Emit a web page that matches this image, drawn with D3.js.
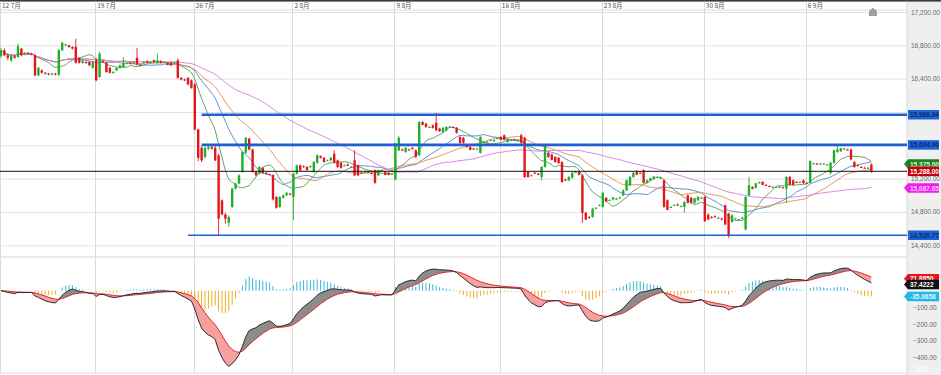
<!DOCTYPE html>
<html>
<head>
<meta charset="utf-8">
<script src="https://cdn.jsdelivr.net/npm/d3@7"></script>
<style>
html, body { margin: 0; padding: 0; background: #fff; }
svg { display: block; font-family: "Liberation Sans", Arial, sans-serif; }
</style>
</head>
<body>
<svg id="chart" width="941" height="375"></svg>
<script>
// 4h candles, 12 Jul - 6 Sep  [open, high, low, close]
const ohlc = [
  // 12 7月
  [16670,16770,16650,16740],[16740,16760,16670,16680],[16680,16700,16620,16650],[16620,16690,16600,16670],
  [16670,16690,16640,16650],[16660,16820,16650,16790],[16760,16770,16670,16680],[16700,16720,16680,16710],
  [16710,16720,16690,16700],[16700,16710,16680,16690],[16680,16700,16430,16440],[16440,16540,16430,16530],
  [16500,16510,16460,16470],[16470,16480,16450,16460],[16460,16470,16440,16450],[16450,16470,16440,16460],
  [16460,16470,16440,16450],[16450,16760,16430,16740],[16740,16840,16730,16830],[16800,16820,16790,16810],
  [16800,16810,16770,16780],[16780,16790,16750,16760],[16780,16880,16580,16590],[16650,16660,16580,16590],
  [16590,16630,16580,16620],[16600,16610,16580,16590],[16600,16610,16550,16560],[16530,16610,16520,16600],
  // 19 7月
  [16620,16650,16370,16380],[16420,16720,16410,16700],[16610,16630,16590,16600],[16590,16600,16470,16480],
  [16530,16540,16460,16470],[16480,16490,16460,16480],[16500,16530,16490,16530],[16530,16570,16520,16560],
  [16540,16660,16530,16590],[16590,16600,16570,16590],[16590,16600,16580,16580],[16590,16610,16580,16600],
  [16650,16770,16560,16570],[16570,16580,16550,16560],[16590,16610,16580,16600],[16610,16620,16590,16590],
  [16600,16610,16590,16600],[16620,16630,16590,16600],[16590,16700,16580,16620],[16610,16620,16580,16590],
  [16600,16610,16590,16600],[16590,16600,16560,16570],[16590,16600,16550,16560],[16590,16600,16580,16590],
  [16620,16640,16400,16410],[16410,16420,16380,16390],[16390,16400,16370,16380],[16410,16420,16320,16330],
  [16380,16390,16280,16290],
  // 26 7月
  [16330,16350,15780,15790],[15790,15800,15410,15450],[15570,15590,15400,15420],[15460,15580,15440,15570],
  [15560,15590,15540,15580],[15580,15600,15550,15560],[15570,15600,15410,15420],[15480,15500,14510,14720],
  [14940,14950,14760,14770],[14770,14790,14660,14720],[14670,14760,14620,14740],[14860,15090,14850,15080],
  [15080,15150,15070,15140],[15140,15250,15130,15240],[15280,15530,15270,15520],[15510,15700,15500,15690],
  [15680,15690,15540,15550],[15550,15560,15270,15280],[15280,15290,15230,15240],[15260,15350,15250,15340],
  [15330,15340,15260,15270],[15270,15280,15250,15255],[15255,15260,15240,15245],[15245,15250,14940,14950],
  [14980,14990,14840,14850],[14860,14990,14850,14980],[14970,15010,14960,15000],[15000,15040,14990,15030],
  [15020,15030,15000,15010],
  // 2 8月
  [14980,15270,14700,15260],[15260,15370,15250,15360],[15360,15370,15290,15300],[15350,15360,15330,15340],
  [15340,15350,15300,15300],[15340,15360,15330,15350],[15280,15410,15270,15400],[15390,15490,15380,15480],
  [15470,15480,15440,15450],[15450,15460,15390,15400],[15420,15430,15410,15420],[15420,15460,15410,15450],
  [15500,15540,15380,15390],[15420,15430,15330,15340],[15390,15400,15320,15330],[15360,15370,15350,15360],
  [15370,15380,15350,15355],[15340,15350,15330,15340],[15420,15540,15230,15240],[15360,15370,15230,15240],
  [15270,15280,15260,15265],[15280,15290,15270,15280],[15280,15290,15270,15275],[15270,15280,15255,15265],
  [15300,15310,15140,15150],[15240,15310,15230,15300],[15300,15310,15290,15300],[15280,15290,15240,15245],
  [15270,15280,15240,15245],[15255,15265,15250,15260],
  // 9 8月
  [15190,15630,15180,15620],[15540,15710,15530,15690],[15550,15560,15530,15545],[15520,15580,15510,15570],
  [15550,15560,15540,15545],[15570,15580,15550,15555],[15540,15550,15450,15460],[15480,15890,15470,15880],
  [15880,15890,15840,15845],[15860,15870,15810,15820],[15820,15830,15810,15820],[15840,15850,15800,15810],
  [15870,15990,15770,15780],[15800,15810,15760,15770],[15760,15820,15750,15810],[15780,15830,15770,15820],
  [15820,15830,15810,15825],[15820,15830,15810,15815],[15810,15820,15740,15750],[15700,15710,15620,15630],
  [15690,15700,15620,15630],[15600,15610,15570,15580],[15580,15590,15540,15545],[15560,15570,15550,15555],
  [15560,15570,15550,15560],[15510,15710,15500,15700],[15630,15650,15620,15640],[15640,15650,15630,15645],
  [15660,15670,15650,15665],[15650,15670,15640,15665],[15680,15700,15670,15690],
  // 16 8月
  [15700,15710,15660,15665],[15720,15730,15660,15665],[15640,15680,15630,15675],[15660,15670,15650,15665],
  [15670,15680,15660,15665],[15660,15670,15650,15660],[15720,15740,15620,15630],[15690,15700,15210,15220],
  [15280,15290,15210,15220],[15240,15250,15230,15240],[15270,15280,15260,15265],[15260,15270,15240,15245],
  [15220,15350,15180,15340],[15340,15620,15330,15610],[15510,15520,15450,15460],[15490,15500,15420,15425],
  [15460,15470,15390,15400],[15450,15460,15380,15385],[15400,15410,15150,15160],[15190,15200,15170,15180],
  [15180,15230,15170,15220],[15210,15280,15200,15270],[15280,15290,15270,15280],[15280,15290,15240,15245],
  [15240,15250,14670,14790],[14790,14800,14700,14710],[14740,14750,14720,14730],[14740,14850,14730,14840],
  [14850,14860,14840,14850],[14880,14890,14870,14885],
  // 23 8月
  [14860,15040,14850,15030],[14970,14980,14920,14925],[14940,14950,14930,14945],[14950,14980,14940,14975],
  [14960,14970,14950,14960],[14970,14980,14960,14975],[15000,15070,14990,15060],[15060,15190,15050,15180],
  [15120,15230,15110,15220],[15220,15280,15210,15270],[15280,15300,15240,15245],[15270,15280,15260,15265],
  [15300,15310,15140,15150],[15150,15190,15140,15180],[15180,15210,15170,15205],[15200,15230,15190,15225],
  [15220,15230,15210,15220],[15210,15220,15200,15210],[15180,15190,14850,14860],[14940,14950,14820,14825],
  [14860,14870,14850,14860],[14880,14890,14870,14885],[14890,14900,14870,14880],[14870,14880,14860,14870],
  [14860,14930,14790,14920],[15000,15010,14900,14910],[14970,14980,14900,14910],[14910,14970,14900,14965],
  [14940,14990,14930,14980],[14970,14980,14960,14970],
  // 30 8月
  [14980,14990,14680,14690],[14770,14780,14700,14710],[14740,14750,14720,14730],[14750,14760,14730,14745],
  [14730,14740,14720,14730],[14720,14730,14700,14715],[14880,14890,14640,14650],[14780,14790,14490,14510],
  [14680,14770,14670,14760],[14720,14730,14710,14725],[14710,14720,14700,14715],[14720,14740,14710,14735],
  [14590,14990,14580,14980],[15000,15220,14990,15120],[15100,15110,15070,15080],[15090,15150,15080,15145],
  [15145,15165,15140,15160],[15160,15170,15120,15125],[15125,15135,15115,15120],[15110,15120,15100,15105],
  [15100,15110,15090,15100],[15100,15110,15090,15105],[15100,15110,15090,15100],[15095,15105,15085,15090],
  [15080,15230,14910,15220],[15220,15230,15120,15125],[15180,15190,15120,15125],[15160,15170,15150,15155],
  [15160,15170,15150,15160],[15180,15190,15140,15145],
  // 6 9月
  [15150,15160,15140,15145],[15150,15420,15140,15410],[15380,15390,15370,15385],[15380,15390,15370,15375],
  [15380,15390,15370,15380],[15380,15390,15370,15380],[15370,15380,15360,15370],[15270,15400,15250,15390],
  [15390,15550,15380,15540],[15520,15590,15510,15550],[15530,15570,15520,15565],[15560,15570,15550,15560],
  [15550,15560,15540,15545],[15550,15560,15420,15430],[15400,15410,15330,15340],[15360,15370,15350,15355],
  [15340,15350,15330,15335],[15330,15340,15320,15325],[15330,15340,15320,15330],[15370,15380,15270,15288]
];

const weekLabels = ["12 7月", "19 7月", "26 7月", "2 8月", "9 8月", "16 8月", "23 8月", "30 8月", "6 9月"];
const weekStart = [0, 28, 57, 86, 116, 147, 177, 207, 237];

const priceTicks = [17200, 16800, 16400, 16000, 15600, 15200, 14800, 14400];
const macdTicks = [100, 0, -100, -200, -300, -400];

// support / resistance lines: value, first candle
const levelValues = [15966.94, 15604.90, 14520.77];
const levelStart = [59, 59, 55];
const levelWidths = [2.6, 2.6, 1.6];

const lastPrice = 15288;

const maPeriods = [10, 20, 30, 60];
const maColors = ["#4f9a4f", "#4f86c8", "#e58a4e", "#d77ada"];

// right-axis value tags
const priceTags = [
  { v: 15966.94, text: "15,966.94", bg: "#1d63d8", fg: "#0b2a66", arrow: false },
  { v: 15604.90, text: "15,604.90", bg: "#1d63d8", fg: "#0b2a66", arrow: false },
  { v: 15375.00, text: "15,375.00", bg: "#1f7f22", fg: "#d8f5d8", arrow: true },
  { v: 15288.00, text: "15,288.00", bg: "#c4000b", fg: "#ffffff", arrow: false },
  { v: 15087.65, text: "15,087.65", bg: "#f01cf0", fg: "#ffd0ff", arrow: true },
  { v: 14520.77, text: "14,520.77", bg: "#1d63d8", fg: "#0b2a66", arrow: false }
];
const macdTags = [
  { v: 71.8850, text: "71.8850", bg: "#e3141c", fg: "#ffffff" },
  { v: 37.4222, text: "37.4222", bg: "#111111", fg: "#ffffff" },
  { v: -35.0658, text: "-35.0658", bg: "#1fb6ea", fg: "#e6f8ff" }
];

const W = 941, H = 375, plotR = 907;
const svg = d3.select("#chart");

const x = d3.scaleLinear().domain([0, ohlc.length - 1]).range([1, 1 + 3.4 * (ohlc.length - 1)]);
const y = d3.scaleLinear().domain([14400, 17200]).range([245.3, 12]);
const ym = d3.scaleLinear().domain([-400, 100]).range([357.5, 274]);

const closes = ohlc.map(d => d[3]);

// backgrounds
svg.append("rect").attr("width", W).attr("height", H).attr("fill", "#fff");
svg.append("rect").attr("x", plotR).attr("y", 0).attr("width", W - plotR).attr("height", H).attr("fill", "#efefef");
svg.append("rect").attr("x", 0).attr("y", 0).attr("width", W).attr("height", 1.6).attr("fill", "#3a3a3a");
svg.append("line").attr("x1", 0).attr("x2", plotR).attr("y1", 10).attr("y2", 10).attr("stroke", "#dcdcdc");
svg.append("line").attr("x1", 0).attr("x2", plotR).attr("y1", 257).attr("y2", 257).attr("stroke", "#d4d4d4");
svg.append("line").attr("x1", 0).attr("x2", plotR).attr("y1", 373).attr("y2", 373).attr("stroke", "#dcdcdc");
svg.append("line").attr("x1", plotR).attr("x2", plotR).attr("y1", 1.6).attr("y2", H).attr("stroke", "#d8d8d8");

// gridlines
svg.append("g").selectAll("line").data(priceTicks).join("line")
  .attr("x1", 0).attr("x2", plotR)
  .attr("y1", d => y(d) + 0.5).attr("y2", d => y(d) + 0.5)
  .attr("stroke", "#e3e3e3");

svg.append("g").selectAll("line").data(weekStart).join("line")
  .attr("x1", d => Math.round(x(d) - 1) + 0.5).attr("x2", d => Math.round(x(d) - 1) + 0.5)
  .attr("y1", 1.6).attr("y2", 373)
  .attr("stroke", "#dadada");

// date labels
svg.append("g").selectAll("text").data(weekStart).join("text")
  .attr("x", d => x(d) + 1).attr("y", 8)
  .attr("font-size", 6.5)
  .attr("font-family", "'Noto Sans CJK SC', 'Liberation Sans', sans-serif")
  .attr("fill", "#555")
  .text((d, i) => weekLabels[i]);

// main panel
const main = svg.append("g");

// moving averages
function sma(n) {
  return closes.map((c, i) => d3.mean(closes.slice(Math.max(0, i - n + 1), i + 1)));
}
maPeriods.forEach((p, k) => {
  const vals = sma(p);
  main.append("path")
    .attr("d", d3.line().x((d, i) => x(i)).y(d => y(d)).curve(d3.curveMonotoneX)(vals))
    .attr("fill", "none")
    .attr("stroke", maColors[k])
    .attr("stroke-width", 0.9);
});

// candles
const up = "#1faf2a", down = "#e3161d";
const candles = main.append("g").selectAll("g").data(ohlc).join("g");
candles.append("line")
  .attr("x1", (d, i) => x(i)).attr("x2", (d, i) => x(i))
  .attr("y1", d => y(d[1])).attr("y2", d => y(d[2]))
  .attr("stroke", d => d[3] >= d[0] ? up : down)
  .attr("stroke-width", 0.9);
candles.append("rect")
  .attr("x", (d, i) => x(i) - 1.2)
  .attr("width", 2.4)
  .attr("y", d => y(Math.max(d[0], d[3])))
  .attr("height", d => Math.max(1, Math.abs(y(d[0]) - y(d[3]))))
  .attr("fill", d => d[3] >= d[0] ? up : down);

// level lines
main.append("g").selectAll("line").data(levelValues).join("line")
  .attr("x1", (d, i) => x(levelStart[i])).attr("x2", plotR)
  .attr("y1", d => y(d)).attr("y2", d => y(d))
  .attr("stroke", "#1e5fd4")
  .attr("stroke-width", (d, i) => levelWidths[i]);

// last price line
main.append("line")
  .attr("x1", 0).attr("x2", plotR)
  .attr("y1", y(lastPrice)).attr("y2", y(lastPrice))
  .attr("stroke", "#111").attr("stroke-width", 1);

// home icon
svg.append("path")
  .attr("d", "M869,16 L869,11 L873,7.5 L877,11 L877,16 Z")
  .attr("fill", "#a0a0a0");

// MACD (12, 26, 9)
function ema(vals, n) {
  const k = 2 / (n + 1);
  let e = vals[0];
  return vals.map(v => (e = v * k + e * (1 - k)));
}
const ema12 = ema(closes, 12), ema26 = ema(closes, 26);
const macd = ema12.map((v, i) => v - ema26[i]);
const signal = ema(macd, 9);
const macdData = macd.map((m, i) => ({ i: i, m: m, s: signal[i], h: m - signal[i] }));

const sub = svg.append("g");
sub.append("g").selectAll("line").data(macdData).join("line")
  .attr("x1", d => x(d.i)).attr("x2", d => x(d.i))
  .attr("y1", ym(0)).attr("y2", d => ym(d.h))
  .attr("stroke", d => d.h >= 0 ? "#33b8d8" : "#f0aa22")
  .attr("stroke-width", 1);

const defs = svg.append("defs");
defs.append("clipPath").attr("id", "clipAbove").append("path")
  .attr("d", d3.area().x(d => x(d.i)).y0(0).y1(d => ym(d.s))(macdData));
defs.append("clipPath").attr("id", "clipBelow").append("path")
  .attr("d", d3.area().x(d => x(d.i)).y0(H).y1(d => ym(d.s))(macdData));
const band = d3.area().x(d => x(d.i)).y0(d => ym(d.s)).y1(d => ym(d.m));
sub.append("path").attr("clip-path", "url(#clipAbove)")
  .attr("d", band(macdData)).attr("fill", "#8c8c8c");
sub.append("path").attr("clip-path", "url(#clipBelow)")
  .attr("d", band(macdData)).attr("fill", "#f6a0a0");
sub.append("path")
  .attr("d", d3.line().x(d => x(d.i)).y(d => ym(d.s))(macdData))
  .attr("fill", "none").attr("stroke", "#e0141c").attr("stroke-width", 0.9);
sub.append("path")
  .attr("d", d3.line().x(d => x(d.i)).y(d => ym(d.m))(macdData))
  .attr("fill", "none").attr("stroke", "#1a1a1a").attr("stroke-width", 0.9);

// right axis labels (those hidden under a value tag are left out)
const fmt = d3.format(",.2f");
const tagYs = priceTags.map(t => y(t.v));
const macdTagYs = macdTags.map(t => ym(t.v));
const freeOf = ys => yy => ys.every(t => Math.abs(t - yy) > 6.5);
svg.append("g").selectAll("text").data(priceTicks.filter(v => freeOf(tagYs)(y(v)))).join("text")
  .attr("x", 911).attr("y", d => y(d) + 2.5)
  .attr("font-size", 6.5).attr("fill", "#666")
  .text(d => fmt(d));
svg.append("g").selectAll("text").data(macdTicks.filter(v => freeOf(macdTagYs)(ym(v)))).join("text")
  .attr("x", 913).attr("y", d => ym(d) + 2.5)
  .attr("font-size", 6.5).attr("fill", "#666")
  .text(d => fmt(d));

// tags
function tag(g, yy, t, arrow) {
  const h = 9.5, left = plotR + 1;
  const pts = arrow
    ? [[left - 4, yy], [left, yy - h / 2], [W - 2, yy - h / 2], [W - 2, yy + h / 2], [left, yy + h / 2]]
    : [[left, yy - h / 2], [W - 2, yy - h / 2], [W - 2, yy + h / 2], [left, yy + h / 2]];
  g.append("polygon").attr("points", pts.map(p => p.join(",")).join(" ")).attr("fill", t.bg);
  g.append("text").attr("x", left + 2).attr("y", yy + 2.5)
    .attr("font-size", 6.5).attr("font-weight", "bold").attr("fill", t.fg).text(t.text);
}
const tagG = svg.append("g");
priceTags.forEach(t => tag(tagG, y(t.v), t, t.arrow));
macdTags.forEach(t => tag(tagG, ym(t.v), t, true));

// watermark
svg.append("text").attr("x", 915).attr("y", 371.5)
  .attr("font-size", 10).attr("fill", "#ffffff").attr("opacity", 0.95)
  .text("tau");
</script>
</body>
</html>
